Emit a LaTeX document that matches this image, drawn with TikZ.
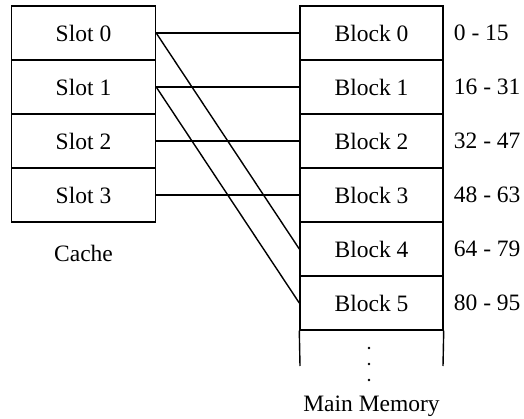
\documentclass[tikz,border=0pt]{standalone}
\usepackage{fontspec}
\setmainfont{Liberation Serif}
\usetikzlibrary{positioning}
\begin{document}
\begin{tikzpicture}[
		x=1pt, y=-1pt,
		every node/.style={align=center, font=\fontsize{23.5}{28}\selectfont},
		slot/.style={rectangle, draw, line width=1.4pt, minimum width=144pt, minimum height=54pt, inner sep=0pt},
		block/.style={slot, minimum width=143pt},
		addr/.style={anchor=west, inner sep=0pt},
		link/.style={line width=1.4pt}
		]
		\useasboundingbox (0,0) rectangle (524,419);
		
		% Left Figure: Cache
		\node[slot] (s0) at (83.5,33) {Slot 0};
		\node[slot] (s1) at (83.5,87) {Slot 1};
		\node[slot] (s2) at (83.5,141) {Slot 2};
		\node[slot] (s3) at (83.5,195) {Slot 3};
		\node (cache) at (83.5,253) {Cache};
		
		% Right Figure: Main Memory
		\node[block] (b0) at (371.5,33) {Block 0};
		\node[block] (b1) at (371.5,87) {Block 1};
		\node[block] (b2) at (371.5,141) {Block 2};
		\node[block] (b3) at (371.5,195) {Block 3};
		\node[block] (b4) at (371.5,249) {Block 4};
		\node[block] (b5) at (371.5,303) {Block 5};
		\coordinate (bl) at (300,366);
		\coordinate (br) at (443,366);
		\draw[link] (b5.south west) -- (bl);
		\draw[link] (b5.south east) -- (br);
		\fill (369,348) circle (1.3pt) (369,364) circle (1.3pt) (369,380) circle (1.3pt);
		\node (mem) at (371.5,406) {Main Memory};
		
		% Addresses
		\node[addr, right=10pt of b0] (a0) {0 - 15};
		\node[addr, right=10pt of b1] (a1) {16 - 31};
		\node[addr, right=10pt of b2] (a2) {32 - 47};
		\node[addr, right=10pt of b3] (a3) {48 - 63};
		\node[addr, right=10pt of b4] (a4) {64 - 79};
		\node[addr, right=10pt of b5] (a5) {80 - 95};
		
		% Mapping
		\draw[link] (s0.east) -- (b0.west);
		\draw[link] (s1.east) -- (b1.west);
		\draw[link] (s2.east) -- (b2.west);
		\draw[link] (s3.east) -- (b3.west);
		\draw[link] (s0.east) -- (b4.west);
		\draw[link] (s1.east) -- (b5.west);
		
	\end{tikzpicture}
\end{document}
